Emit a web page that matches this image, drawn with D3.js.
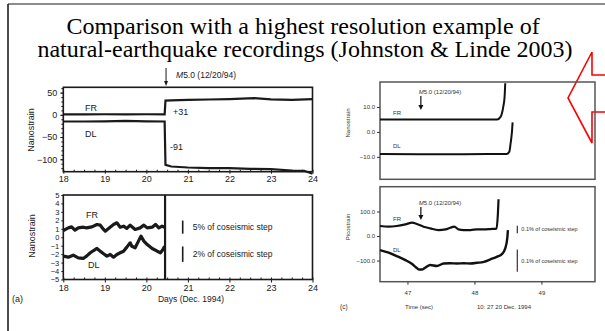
<!DOCTYPE html>
<html><head><meta charset="utf-8">
<script src="https://cdn.jsdelivr.net/npm/d3@7"></script>
<style>body{margin:0;background:#fff}svg{display:block}.serif{font-family:"Liberation Serif","DejaVu Serif",serif}</style>
</head><body><svg id="slide" width="605" height="331"></svg>
<script>
// ---- (a) strain records, days of December 1994 ----
const dayTicks = [18, 19, 20, 21, 22, 23, 24];
const strainTicksA = [50, 0, -50, -100];
const residualTicks = [5, 4, 3, 2, 1, 0, -1, -2, -3, -4, -5];
const quakeDay = 20.45;
const frStep = 31, dlStep = -91;

const frDays = [18, 18.5, 19, 19.5, 20, 20.44, 20.46, 20.6, 21, 21.5, 22, 22.6, 23, 23.5, 24];
const frStrain = [1, 1, 1.3, 1, 1.3, 1, 32.2, 32.5, 33.8, 34.5, 35.3, 37.5, 35, 33.8, 35.3];
const dlDays = [18, 18.5, 19, 19.5, 20, 20.44, 20.46, 20.6, 21, 21.5, 22, 22.5, 23, 23.5, 23.8, 24];
const dlStrain = [-15, -15, -14.5, -13.5, -14.5, -15, -112.6, -116.3, -118.5, -120, -120, -121.6, -122, -125.3, -126, -132.8];

// residuals before the event
const frResDays = [18, 18.12, 18.2, 18.28, 18.36, 18.48, 18.56, 18.69, 18.81, 18.89, 18.97, 19.01, 19.09, 19.21, 19.29, 19.37, 19.45, 19.53, 19.61, 19.73, 19.85, 19.94, 20.02, 20.14, 20.22, 20.3, 20.38, 20.44];
const frRes = [0.8, 1.11, 1.23, 0.84, 1.11, 1.19, 1.11, 1.23, 1.51, 1.43, 0.92, 0.72, 1.04, 1.51, 1.71, 1.19, 1.31, 1.04, 1.43, 0.92, 1.11, 1.43, 1.11, 1.19, 1.51, 1.11, 1.31, 1.19];
const dlResDays = [18, 18.12, 18.24, 18.36, 18.48, 18.56, 18.65, 18.73, 18.81, 18.89, 18.97, 19.05, 19.13, 19.21, 19.29, 19.37, 19.45, 19.53, 19.61, 19.65, 19.73, 19.81, 19.87, 19.94, 20.02, 20.14, 20.26, 20.34, 20.4, 20.44];
const dlRes = [-2.24, -2.36, -2.12, -2.44, -2.51, -2.24, -1.84, -1.57, -1.33, -1.65, -1.96, -2.24, -2.04, -2.36, -2.04, -1.84, -1.65, -1.17, -0.66, -1.06, -1.25, -0.46, 0.13, -0.46, -0.86, -1.33, -1.65, -1.84, -1.45, -1.06];

// ---- (c) high-rate records, seconds after 10:27 20 Dec. 1994 ----
const secTicks = [47, 48, 49];
const nanoTicksC = [10, 0, -10];
const picoTicksC = [100, 0, -100];
const quakeSec = 47.2;

const frSecTop = [46.59, 47.5, 48.2, 48.34, 48.39, 48.43, 48.45, 48.46];
const frNanoTop = [5, 5, 5, 5, 6, 10, 14, 19.5];
const dlSecTop = [46.59, 47.5, 48.2, 48.48, 48.52, 48.54, 48.56, 48.57];
const dlNanoTop = [-8.9, -9, -8.9, -8.9, -8, -4.6, 0, 3.8];

const frSecBot = [46.59, 46.72, 46.84, 46.97, 47.07, 47.14, 47.24, 47.34, 47.46, 47.57, 47.64, 47.7, 47.76, 47.84, 47.94, 48.04, 48.14, 48.24, 48.33, 48.35, 48.36];
const frPico = [40.8, 38, 40.8, 47.6, 54.4, 49, 38, 31.3, 24.5, 27.2, 34, 38, 27.2, 24.5, 24.5, 27.2, 27.2, 28.5, 30, 90, 150];
const dlSecBot = [46.59, 46.72, 46.84, 46.97, 47.07, 47.13, 47.17, 47.22, 47.27, 47.34, 47.44, 47.54, 47.64, 47.74, 47.84, 47.94, 48.04, 48.14, 48.24, 48.34, 48.41, 48.46, 48.49, 48.5];
const dlPico = [-57, -68, -81.6, -98, -114, -128, -136, -136, -128, -118, -122, -112, -111, -112, -111, -112, -109, -105, -95, -84, -73.5, -50, -10, 24];

const zip = (xs, ys) => xs.map((x, i) => [x, ys[i]]);
const svg = d3.select("#slide");
const sans = "Liberation Sans, Arial, sans-serif";
const fmtInt = d3.format("d");

// slide frame
svg.append("line").attr("x1", 8).attr("y1", 4).attr("x2", 605).attr("y2", 4).attr("stroke", "#666").attr("stroke-width", 1.5);
svg.append("line").attr("x1", 8).attr("y1", 4).attr("x2", 8).attr("y2", 331).attr("stroke", "#111").attr("stroke-width", 1.5);

// title
const title = svg.append("g").attr("class", "serif").attr("font-size", 24).attr("text-anchor", "middle").attr("fill", "#000");
title.append("text").attr("x", 303).attr("y", 34).text("Comparison with a highest resolution example of");
title.append("text").attr("x", 305).attr("y", 57).text("natural-earthquake recordings (Johnston & Linde 2003)");

// callout outline
svg.append("path")
  .attr("d", d3.line()([[606, 75], [592, 75], [592, 52], [568, 98], [592, 143], [592, 112], [606, 112]]))
  .attr("fill", "none").attr("stroke", "#f00").attr("stroke-width", 1.6);

function styleAxis(g, size, color) {
  g.select(".domain").remove();
  g.selectAll("text").attr("font-family", sans).attr("font-size", size).attr("fill", color);
  g.selectAll("line").attr("stroke", color);
}

// ================= panel (a) =================
const xA = d3.scaleLinear([18, 24], [63.3, 312.5]);
const yA1 = d3.scaleLinear([-128, 62], [171.7, 87.3]);
const yA2 = d3.scaleLinear([-5, 5], [279.5, 195]);
const ink = "#1a1a1a";

[yA1, yA2].forEach(y => {
  svg.append("rect").attr("x", xA(18)).attr("y", y.range()[1]).attr("width", xA(24) - xA(18)).attr("height", y.range()[0] - y.range()[1])
    .attr("fill", "none").attr("stroke", ink).attr("stroke-width", 1.6);
});

// top axes
svg.append("g").attr("transform", `translate(${xA(18)},0)`)
  .call(d3.axisLeft(yA1).tickValues(strainTicksA).tickSize(3).tickPadding(3).tickFormat(fmtInt))
  .call(g => styleAxis(g, 9, ink));
svg.append("g").attr("transform", `translate(${xA(18)},0)`)
  .call(d3.axisLeft(yA1).tickValues(d3.range(-120, 61, 10)).tickSize(2).tickFormat(""))
  .call(g => styleAxis(g, 9, ink));
svg.append("g").attr("transform", `translate(0,${yA1.range()[0]})`)
  .call(d3.axisBottom(xA).tickValues(dayTicks).tickSize(2).tickPadding(1.5).tickFormat(fmtInt))
  .call(g => styleAxis(g, 9, ink));
svg.append("g").attr("transform", `translate(0,${yA1.range()[0]})`)
  .call(d3.axisBottom(xA).tickValues(d3.range(18, 24.01, 0.25)).tickSize(-2).tickFormat(""))
  .call(g => styleAxis(g, 9, ink));

const lineA1 = d3.line().x(d => xA(d[0])).y(d => yA1(d[1]));
svg.append("path").attr("d", lineA1(zip(frDays, frStrain))).attr("fill", "none").attr("stroke", ink).attr("stroke-width", 2.2);
svg.append("path").attr("d", lineA1(zip(dlDays, dlStrain))).attr("fill", "none").attr("stroke", ink).attr("stroke-width", 2.2);

const labA = svg.append("g").attr("font-family", sans).attr("font-size", 9).attr("fill", ink);
labA.append("text").attr("x", 85).attr("y", 111).text("FR");
labA.append("text").attr("x", 85).attr("y", 137).text("DL");
labA.append("text").attr("x", 173).attr("y", 115).text("+" + frStep);
labA.append("text").attr("x", 170).attr("y", 150).text(dlStep);
labA.append("text").attr("transform", "translate(34,130) rotate(-90)").attr("text-anchor", "middle").text("Nanostrain");

// event marker
const qx = xA(quakeDay);
svg.append("line").attr("x1", qx + 1).attr("y1", 68).attr("x2", qx + 1).attr("y2", 82).attr("stroke", ink).attr("stroke-width", 1);
svg.append("path").attr("d", d3.line()([[qx - 1, 81], [qx + 3, 81], [qx + 1, 86]])).attr("fill", ink);
const mA = svg.append("text").attr("x", qx + 11).attr("y", 78).attr("font-family", sans).attr("font-size", 8.5).attr("fill", ink);
mA.append("tspan").attr("font-style", "italic").text("M");
mA.append("tspan").text("5.0 (12/20/94)");

// bottom axes
svg.append("g").attr("transform", `translate(${xA(18)},0)`)
  .call(d3.axisLeft(yA2).tickValues(residualTicks).tickSize(2).tickPadding(2).tickFormat(fmtInt))
  .call(g => styleAxis(g, 7.5, ink));
svg.append("g").attr("transform", `translate(0,${yA2.range()[0]})`)
  .call(d3.axisBottom(xA).tickValues(dayTicks).tickSize(3).tickPadding(2).tickFormat(fmtInt))
  .call(g => styleAxis(g, 9, ink));
svg.append("g").attr("transform", `translate(0,${yA2.range()[0]})`)
  .call(d3.axisBottom(xA).tickValues(d3.range(18, 24.01, 0.25)).tickSize(-2).tickFormat(""))
  .call(g => styleAxis(g, 9, ink));

svg.append("line").attr("x1", qx).attr("x2", qx).attr("y1", yA2.range()[1]).attr("y2", yA2.range()[0]).attr("stroke", ink).attr("stroke-width", 2.2);

const lineA2 = d3.line().x(d => xA(d[0])).y(d => yA2(d[1]));
svg.append("path").attr("d", lineA2(zip(frResDays, frRes))).attr("fill", "none").attr("stroke", ink).attr("stroke-width", 3.2).attr("stroke-linejoin", "round");
svg.append("path").attr("d", lineA2(zip(dlResDays, dlRes))).attr("fill", "none").attr("stroke", ink).attr("stroke-width", 3.2).attr("stroke-linejoin", "round");

labA.append("text").attr("x", 86).attr("y", 218).text("FR");
labA.append("text").attr("x", 88).attr("y", 268).text("DL");
labA.append("text").attr("transform", "translate(35,236) rotate(-90)").attr("text-anchor", "middle").text("Nanostrain");
labA.append("text").attr("x", 191).attr("y", 302).attr("text-anchor", "middle").attr("font-size", 8.5).text("Days (Dec. 1994)");
labA.append("text").attr("x", 12).attr("y", 302).text("(a)");

// coseismic-step scale bars
const barX = 182.7;
[[1.2, 0.05 * frStep, "5% of coseismic step"], [-2.0, 0.02 * Math.abs(dlStep), "2% of coseismic step"]].forEach(([c, len, t]) => {
  svg.append("line").attr("x1", barX).attr("x2", barX).attr("y1", yA2(c + len / 2)).attr("y2", yA2(c - len / 2)).attr("stroke", ink).attr("stroke-width", 1.6);
  labA.append("text").attr("x", barX + 10).attr("y", yA2(c) + 3).attr("font-size", 8.5).text(t);
});

// ================= panel (c) =================
const xC = d3.scaleLinear([46.59, 49.8], [380, 595]);
const yC1 = d3.scaleLinear([-19, 20], [179.3, 82]);
const yC2 = d3.scaleLinear([-186, 201], [281.7, 186.7]);
const inkC = "#333";
const fc = 6;

[yC1, yC2].forEach(y => {
  svg.append("rect").attr("x", xC.range()[0]).attr("y", y.range()[1]).attr("width", xC.range()[1] - xC.range()[0]).attr("height", y.range()[0] - y.range()[1])
    .attr("fill", "none").attr("stroke", "#555").attr("stroke-width", 1.5);
});

svg.append("g").attr("transform", `translate(${xC.range()[0]},0)`)
  .call(d3.axisLeft(yC1).tickValues(nanoTicksC).tickSize(3).tickPadding(2).tickFormat(d3.format(".1f")))
  .call(g => styleAxis(g, fc, inkC));
svg.append("g").attr("transform", `translate(${xC.range()[0]},0)`)
  .call(d3.axisLeft(yC2).tickValues(picoTicksC).tickSize(3).tickPadding(2).tickFormat(d3.format(".1f")))
  .call(g => styleAxis(g, fc, inkC));
svg.append("g").attr("transform", `translate(0,${yC2.range()[0]})`)
  .call(d3.axisBottom(xC).tickValues(secTicks).tickSize(3).tickPadding(6).tickFormat(fmtInt))
  .call(g => styleAxis(g, fc, inkC));

const lineC1 = d3.line().x(d => xC(d[0])).y(d => yC1(d[1])).curve(d3.curveMonotoneX);
const lineC2 = d3.line().x(d => xC(d[0])).y(d => yC2(d[1])).curve(d3.curveMonotoneX);
svg.append("path").attr("d", lineC1(zip(frSecTop, frNanoTop))).attr("fill", "none").attr("stroke", "#111").attr("stroke-width", 2);
svg.append("path").attr("d", lineC1(zip(dlSecTop, dlNanoTop))).attr("fill", "none").attr("stroke", "#111").attr("stroke-width", 2);
svg.append("path").attr("d", lineC2(zip(frSecBot, frPico))).attr("fill", "none").attr("stroke", "#111").attr("stroke-width", 2.2);
svg.append("path").attr("d", lineC2(zip(dlSecBot, dlPico))).attr("fill", "none").attr("stroke", "#111").attr("stroke-width", 2.4);

const labC = svg.append("g").attr("font-family", sans).attr("font-size", fc).attr("fill", inkC);
labC.append("text").attr("x", 393).attr("y", 115).text("FR");
labC.append("text").attr("x", 393).attr("y", 148).text("DL");
labC.append("text").attr("x", 393).attr("y", 221).text("FR");
labC.append("text").attr("x", 393).attr("y", 252).text("DL");
labC.append("text").attr("transform", "translate(350,123) rotate(-90)").attr("text-anchor", "middle").text("Nanostrain");
labC.append("text").attr("transform", "translate(350,227) rotate(-90)").attr("text-anchor", "middle").text("Picostrain");
labC.append("text").attr("x", 340).attr("y", 309).attr("font-size", 6.5).text("(c)");
labC.append("text").attr("x", 405).attr("y", 309).text("Time (sec)");
labC.append("text").attr("x", 477).attr("y", 309).text("10: 27 20 Dec. 1994");

// event markers in (c)
[[93.5, 96, 110], [205, 207, 220]].forEach(([ty, a0, a1]) => {
  const x = xC(quakeSec);
  svg.append("line").attr("x1", x).attr("x2", x).attr("y1", a0).attr("y2", a1 - 4).attr("stroke", "#111").attr("stroke-width", 1.2);
  svg.append("path").attr("d", d3.line()([[x - 2.5, a1 - 5], [x + 2.5, a1 - 5], [x, a1]])).attr("fill", "#111");
  const t = labC.append("text").attr("x", x - 2).attr("y", ty);
  t.append("tspan").attr("font-style", "italic").text("M");
  t.append("tspan").text("5.0 (12/20/94)");
});

// 0.1% scale bars
const barXC = 517.3;
[[frPico[0] - 14, frStep], [-100, Math.abs(dlStep)]].forEach(([c, len]) => {
  svg.append("line").attr("x1", barXC).attr("x2", barXC).attr("y1", yC2(c + len / 2)).attr("y2", yC2(c - len / 2)).attr("stroke", "#333").attr("stroke-width", 1.2);
  labC.append("text").attr("x", barXC + 4).attr("y", yC2(c) + 2).attr("font-size", 5.5).text("0.1% of coseismic step");
});
</script></body></html>
